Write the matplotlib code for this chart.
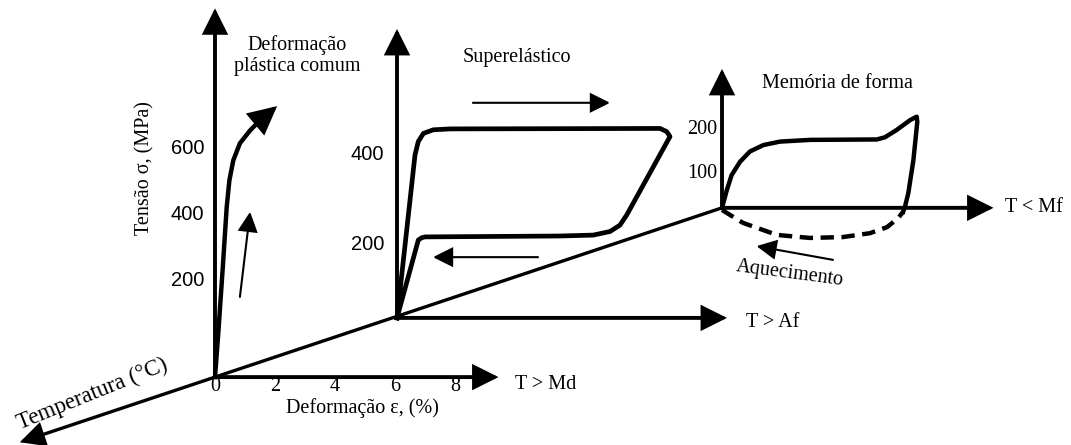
import matplotlib
matplotlib.use('Agg')
import matplotlib.pyplot as plt

W, H = 1071, 445

# curva de deformacao plastica comum (deformacao %, tensao MPa)
plast_eps = [0, 0.11, 0.26, 0.39, 0.48, 0.61, 0.83, 1.17, 1.5]
plast_sig = [-89, 44, 242, 422, 503, 563, 614, 653, 683]
plast_tip = (2.07, 726)

# laco superelastico
super_eps = [0, 0.6, 0.71, 0.88, 1.21, 1.77, 8.77, 8.99, 9.1, 7.66, 7.43,
             7.1, 6.54, 5.43, 0.93, 0.82, 0.71, 0]
super_sig = [38, 400, 430, 448, 456, 458, 459, 452, 441, 267, 244,
             230, 222, 220, 218, 216, 211, 38]

# memoria de forma: carga/descarga e recuperacao por aquecimento
mem_eps = [0, 0.16, 0.32, 0.6, 0.93, 1.38, 1.93, 2.93, 5.16, 5.43, 5.82,
           6.27, 6.49, 6.51, 6.38, 6.21, 6.1, 6.04]
mem_sig = [19, 60, 95, 126, 150, 165, 173, 177, 178, 183, 200,
           223, 231, 219, 130, 53, 22, 10]
heat_eps = [0, 0.7, 1.83, 2.93, 4.03, 4.93, 5.5, 5.87, 6.04]
heat_sig = [14, -16, -44, -51, -49, -40, -26, -5, 10]

eps_ticks = [0, 2, 4, 6, 8]
sig_ticks_main = [200, 400, 600]
sig_ticks_super = [200, 400]
sig_ticks_mem = [100, 200]

SERIF = 'Liberation Serif'
SANS = 'Liberation Sans'
FS = 14.5

fig = plt.figure(figsize=(W / 100, H / 100), dpi=100)


def panel(x0, sx, yz, sy):
    # eixo transparente do tamanho da figura, origem da deformacao em x0 px
    ax = fig.add_axes([0, 0, 1, 1])
    ax.set_xlim(-x0 / sx, (W - x0) / sx)
    ax.set_ylim((yz - H) / sy, yz / sy)
    ax.axis('off')
    ax.patch.set_alpha(0)
    return ax


def arrow(ax, a, b, lw=2.8, ms=14.5, hl=1.0, hw=0.5):
    ax.annotate('', xy=b, xytext=a, xycoords='data',
                arrowprops=dict(arrowstyle='-|>,head_length=%g,head_width=%g' % (hl, hw),
                                lw=lw, color='black', mutation_scale=ms,
                                shrinkA=0, shrinkB=0, joinstyle='miter'),
                annotation_clip=False)


axA = panel(215, 30, 347.5, 0.3325)
axB = panel(397, 30, 335, 0.45)
axC = panel(722, 30, 216, 0.43)
baseA, baseB, baseC = -89, 38, 19

# eixo da temperatura (passa pelas origens dos tres graficos)
oA = axA.transData.transform((0, baseA))
oC = axC.transData.transform((0, baseC))
tail = oA - 0.385 * (oC - oA)
inv = axA.transData.inverted()
pC = inv.transform(oC)
pT = inv.transform(tail)
axA.plot([0, pC[0]], [baseA, pC[1]], color='black', lw=2.4,
         solid_capstyle='butt', clip_on=False)
arrow(axA, (0, baseA), tuple(pT), lw=2.4)
axA.text(-4.1, -140, 'Temperatura (\u00b0C)', family=SERIF, fontsize=16.5,
         rotation=22, ha='center', va='center')

# grafico A - deformacao plastica comum
arrow(axA, (0, baseA), (0, 1020))
arrow(axA, (0, baseA), (9.45, baseA))
for t in eps_ticks:
    axA.text(t, -118, str(t), family=SERIF, fontsize=FS, ha='center', va='center')
for t in sig_ticks_main:
    axA.text(-0.35, t, str(t), family=SANS, fontsize=FS, ha='right', va='center')
axA.text(-2.33, 540, 'Tens\u00e3o \u03c3, (MPa)', family=SERIF, fontsize=FS,
         rotation=90, ha='center', va='center')
axA.text(4.93, -183, 'Deforma\u00e7\u00e3o \u03b5, (%)', family=SERIF, fontsize=FS,
         ha='center', va='center')
axA.text(10.0, -112, 'T > Md', family=SERIF, fontsize=FS, ha='left', va='center')
axA.text(2.73, 877, 'Deforma\u00e7\u00e3o\npl\u00e1stica comum', family=SERIF,
         fontsize=FS, ha='center', va='center', linespacing=1.15)
axA.plot(plast_eps, plast_sig, color='black', lw=3.2, solid_joinstyle='round',
         clip_on=False)
arrow(axA, (plast_eps[-1], plast_sig[-1]), plast_tip, lw=3.2, ms=15.5)
arrow(axA, (0.83, 152), (1.17, 408), lw=1.5, ms=11, hl=1.1, hw=0.55)

# grafico B - superelastico
arrow(axB, (0, baseB), (0, 680))
arrow(axB, (0, baseB), (11.0, baseB))
for t in sig_ticks_super:
    axB.text(-0.43, t, str(t), family=SANS, fontsize=FS, ha='right', va='center')
axB.text(11.65, 27, 'T > Af', family=SERIF, fontsize=FS, ha='left', va='center')
axB.text(4.0, 616, 'Superel\u00e1stico', family=SERIF, fontsize=FS,
         ha='center', va='center')
axB.plot(super_eps, super_sig, color='black', lw=3.4, solid_joinstyle='round',
         clip_on=False)
arrow(axB, (2.53, 516), (7.1, 516), lw=1.5, ms=11, hl=1.1, hw=0.55)
arrow(axB, (4.7, 173), (1.2, 173), lw=1.5, ms=11, hl=1.1, hw=0.55)

# grafico C - memoria de forma
arrow(axC, (0, baseC), (0, 342))
arrow(axC, (0, baseC), (9.05, baseC))
for t in sig_ticks_mem:
    axC.text(-0.15, t, str(t), family=SERIF, fontsize=FS, ha='right', va='center')
axC.text(9.45, 19, 'T < Mf', family=SERIF, fontsize=FS, ha='left', va='center')
axC.text(3.85, 309, 'Mem\u00f3ria de forma', family=SERIF, fontsize=FS,
         ha='center', va='center')
axC.plot(mem_eps, mem_sig, color='black', lw=3.2, solid_joinstyle='round',
         clip_on=False)
axC.plot(heat_eps, heat_sig, color='black', lw=3.2, linestyle=(0, (3, 1.7)),
         clip_on=False)
arrow(axC, (3.7, -102), (1.15, -70), lw=1.5, ms=11, hl=1.1, hw=0.55)
axC.text(2.27, -133, 'Aquecimento', family=SERIF, fontsize=FS, rotation=-7.5,
         ha='center', va='center')

fig.savefig('out.png', dpi=100)
